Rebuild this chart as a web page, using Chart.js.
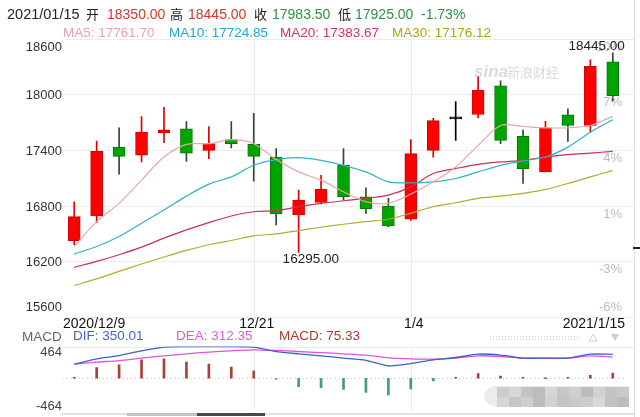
<!DOCTYPE html>
<html>
<head>
<meta charset="utf-8">
<script src="https://cdn.jsdelivr.net/npm/chart.js@4.4.1/dist/chart.umd.min.js"></script>
<style>
  html, body { margin: 0; padding: 0; background: #fff; }
  #wrap { position: relative; width: 640px; height: 417px; overflow: hidden; }
  canvas { position: absolute; left: 0; top: 0; }
</style>
</head>
<body>
<div id="wrap">
  <canvas id="kline" width="640" height="417"></canvas>
  <canvas id="macd" width="640" height="417"></canvas>
</div>
<script>
// K-line data
const dates = ['2020/12/9', '2020/12/10', '2020/12/11', '2020/12/14', '2020/12/15', '2020/12/16', '2020/12/17',
    '2020/12/18', '2020/12/21', '2020/12/22', '2020/12/23', '2020/12/24', '2020/12/28', '2020/12/29', '2020/12/30',
    '2021/1/4', '2021/1/5', '2021/1/6', '2021/1/7', '2021/1/8', '2021/1/11', '2021/1/12', '2021/1/13', '2021/1/14', '2021/1/15'];
const open  = [16421, 16688, 17430, 17342, 17585, 17628, 17395, 17510, 17459, 17323, 16699, 16835, 17234, 16895, 16795, 16653, 17395, 17745, 17781, 18091, 17545, 17163, 17777, 17663, 18350];
const close = [16681, 17384, 17331, 17591, 17617, 17366, 17467, 17467, 17331, 16710, 16860, 16974, 16895, 16763, 16581, 17360, 17716, 17745, 18045, 17502, 17199, 17638, 17663, 18300, 17983.5];
const high  = [16841, 17495, 17638, 17759, 17859, 17706, 17652, 17706, 17795, 17413, 16967, 17127, 17413, 16991, 16878, 17510, 17741, 17920, 18188, 18145, 17617, 17709, 17842, 18370, 18445];
const low   = [16378, 16617, 17138, 17270, 17478, 17277, 17306, 17420, 17063, 16592, 16295, 16817, 16860, 16717, 16574, 16640, 17323, 17502, 17745, 17467, 17038, 17163, 17492, 17591, 17925];

const ma5  = [16359, 16627, 16824, 17074, 17323, 17459, 17467, 17510, 17467, 17296, 17163, 17074, 16949, 16841, 16824, 16924, 17056, 17216, 17449, 17663, 17652, 17638, 17638, 17663, 17761.7];
const ma10 = [16278, 16359, 16467, 16610, 16753, 16902, 17031, 17109, 17234, 17296, 17317, 17288, 17234, 17163, 17056, 17045, 17056, 17092, 17163, 17234, 17281, 17323, 17430, 17591, 17724.85];
const ma20 = [16135, 16199, 16271, 16353, 16449, 16538, 16617, 16688, 16734, 16745, 16788, 16824, 16852, 16878, 16913, 17002, 17146, 17199, 17245, 17270, 17288, 17323, 17349, 17366, 17383.67];
const ma30 = [15939, 16010, 16092, 16171, 16246, 16317, 16378, 16424, 16474, 16495, 16531, 16567, 16599, 16627, 16653, 16717, 16788, 16831, 16878, 16902, 16931, 16974, 17038, 17109, 17176.12];

// MACD panel
const dif  = [206, 284, 332, 401, 456, 463, 464, 464, 456, 390, 357, 328, 294, 262, 181, 215, 269, 303, 353, 338, 294, 294, 294, 353, 350.01];
const dea  = [206, 235, 259, 294, 328, 357, 382, 401, 416, 406, 391, 375, 357, 338, 298, 284, 279, 294, 328, 318, 294, 294, 294, 328, 312.35];
const hist = [5, 156, 196, 269, 284, 235, 206, 162, 107, -15, -123, -138, -162, -206, -245, -157, -40, 10, 70, 30, 3, 0, 2, 44, 75.33];

// axes
const priceTicks = [18600, 18000, 17400, 16800, 16200, 15600];
const pctTicks = ['10%', '7%', '4%', '1%', '-3%', '-6%'];
const macdTicks = [464, -464];
const axisDateIdx = [0, 8, 15, 24];
const axisDateText = ['2020/12/9', '12/21', '1/4', '2021/1/15'];

const FONT = '"Liberation Sans", "Noto Sans CJK SC", sans-serif';
const RED = '#d2392e', GREEN = '#2e9141';

function txt(ctx, s, x, y, color, size, align) {
    ctx.font = size + 'px ' + FONT;
    ctx.fillStyle = color;
    ctx.textAlign = align || 'left';
    ctx.textBaseline = 'middle';
    ctx.fillText(s, x, y);
}

const upDown = open.map((o, i) => close[i] > o ? 1 : (close[i] < o ? -1 : 0));
const bodyFill = upDown.map(d => d > 0 ? '#ff0000' : (d < 0 ? '#00a400' : '#000'));
const bodyLine = upDown.map(d => d > 0 ? '#d00000' : (d < 0 ? '#007a00' : '#000'));
const wickColor = upDown.map(d => d > 0 ? '#e00000' : (d < 0 ? '#2f4a2f' : '#000'));

const klineDecor = {
    id: 'klineDecor',
    beforeDraw(chart) {
        const ctx = chart.ctx;
        ctx.save();
        ctx.fillStyle = '#fff';
        ctx.fillRect(0, 0, chart.width, chart.height);
        ctx.restore();
    },
    beforeDatasetsDraw(chart) {
        const ctx = chart.ctx, ys = chart.scales.y, xs = chart.scales.x, a = chart.chartArea;
        ctx.save();
        ctx.strokeStyle = '#ececec';
        ctx.lineWidth = 1;
        priceTicks.forEach(v => {
            const y = Math.round(ys.getPixelForValue(v)) + 0.5;
            ctx.beginPath(); ctx.moveTo(a.left, y); ctx.lineTo(634, y); ctx.stroke();
        });
        [8, 15].forEach(i => {
            const x = Math.round(xs.getPixelForValue(i)) + 0.5;
            ctx.beginPath(); ctx.moveTo(x, a.top); ctx.lineTo(x, a.bottom); ctx.stroke();
        });
        // watermark
        ctx.font = 'italic bold 17px ' + FONT;
        ctx.fillStyle = '#dadada';
        ctx.textBaseline = 'middle';
        ctx.fillText('sina', 474, 72);
        ctx.font = '13px ' + FONT;
        ctx.fillText('新浪财经', 507, 73);
        ctx.restore();
    },
    afterDraw(chart) {
        const ctx = chart.ctx, ys = chart.scales.y, xs = chart.scales.x;
        ctx.save();
        // header
        txt(ctx, '2021/01/15', 7, 15, '#222', 14.5);
        txt(ctx, '开', 86, 15, '#222', 13);
        txt(ctx, '18350.00', 107, 15, RED, 14);
        txt(ctx, '高', 170, 15, '#222', 13);
        txt(ctx, '18445.00', 188, 15, RED, 14);
        txt(ctx, '收', 254, 15, '#222', 13);
        txt(ctx, '17983.50', 272, 15, GREEN, 14);
        txt(ctx, '低', 338, 15, '#222', 13);
        txt(ctx, '17925.00', 355, 15, GREEN, 14);
        txt(ctx, '-1.73%', 421, 15, GREEN, 14);
        txt(ctx, 'MA5: ' + ma5[24].toFixed(2), 63, 33, '#e6a3ad', 13.5);
        txt(ctx, 'MA10: ' + ma10[24].toFixed(2), 169, 33, '#26a6cf', 13.5);
        txt(ctx, 'MA20: ' + ma20[24].toFixed(2), 280, 33, '#cc3857', 13.5);
        txt(ctx, 'MA30: ' + ma30[24].toFixed(2), 392, 33, '#a9a51e', 13.5);
        // left price axis + right percent axis
        priceTicks.forEach((v, i) => {
            const y = ys.getPixelForValue(v);
            const last = i === priceTicks.length - 1;
            const ly = i === 0 ? y + 8.5 : (last ? y - 10 : y + 1.5);
            txt(ctx, String(v), 62, ly, '#333', 13, 'right');
            txt(ctx, pctTicks[i], 622, last ? y - 10 : y + 8.5, '#bdbdbd', 13, 'right');
        });
        // date axis
        axisDateIdx.forEach((idx, k) => {
            const x = xs.getPixelForValue(idx);
            let align = 'center', tx = x + 3;
            if (k === 0) { align = 'left'; tx = 63; }
            if (k === axisDateIdx.length - 1) { align = 'right'; tx = 625; }
            txt(ctx, axisDateText[k], tx, 324, '#111', 14, align);
        });
        // max / min markers
        let hi = 0, lo = 0;
        high.forEach((v, i) => { if (v > high[hi]) hi = i; });
        low.forEach((v, i) => { if (v < low[lo]) lo = i; });
        txt(ctx, high[hi].toFixed(2), xs.getPixelForValue(hi) + 12, ys.getPixelForValue(high[hi]) - 7, '#222', 13.5, 'right');
        txt(ctx, low[lo].toFixed(2), xs.getPixelForValue(lo) - 16, ys.getPixelForValue(low[lo]) + 7, '#222', 13.5, 'left');
        // frame
        ctx.strokeStyle = '#dcdcdc';
        ctx.beginPath(); ctx.moveTo(634.5, 0); ctx.lineTo(634.5, 417); ctx.stroke();
        ctx.fillStyle = '#222';
        ctx.fillRect(633, 247, 7, 2);
        ctx.restore();
    }
};

new Chart(document.getElementById('kline').getContext('2d'), {
    type: 'bar',
    data: {
        labels: dates,
        datasets: [{
            type: 'line',
            data: ma5,
            borderColor: '#e3a9a3',
            borderWidth: 1.2,
            pointRadius: 0,
            tension: 0.3,
            order: 0
        }, {
            type: 'line',
            data: ma10,
            borderColor: '#2fb3c6',
            borderWidth: 1.2,
            pointRadius: 0,
            tension: 0.3,
            order: 0
        }, {
            type: 'line',
            data: ma20,
            borderColor: '#cc3050',
            borderWidth: 1.2,
            pointRadius: 0,
            tension: 0.3,
            order: 0
        }, {
            type: 'line',
            data: ma30,
            borderColor: '#b0ad2c',
            borderWidth: 1.2,
            pointRadius: 0,
            tension: 0.3,
            order: 0
        }, {
            // candle bodies
            data: open.map((o, i) => o === close[i] ? [o - 10, o + 10] : [o, close[i]]),
            backgroundColor: bodyFill,
            borderColor: bodyLine,
            borderWidth: 1,
            borderSkipped: false,
            barThickness: 12,
            grouped: false,
            order: 1
        }, {
            // wicks
            data: low.map((l, i) => [l, high[i]]),
            backgroundColor: wickColor,
            borderWidth: 0,
            barThickness: 1,
            grouped: false,
            order: 2
        }]
    },
    options: {
        responsive: false,
        animation: false,
        layout: { padding: { left: 63, right: 16, top: 38.5, bottom: 100 } },
        plugins: { legend: { display: false }, tooltip: { enabled: false } },
        scales: {
            x: { type: 'category', display: false, offset: true },
            y: { display: false, min: 15600, max: 18600 }
        }
    },
    plugins: [klineDecor]
});

const macdDecor = {
    id: 'macdDecor',
    beforeDatasetsDraw(chart) {
        const ctx = chart.ctx, ys = chart.scales.y, xs = chart.scales.x, a = chart.chartArea;
        ctx.save();
        ctx.strokeStyle = '#ececec';
        ctx.lineWidth = 1;
        let y = Math.round(ys.getPixelForValue(macdTicks[0])) + 0.5;
        ctx.beginPath(); ctx.moveTo(a.left, y); ctx.lineTo(634, y); ctx.stroke();
        [8, 15].forEach(i => {
            const x = Math.round(xs.getPixelForValue(i)) + 0.5;
            ctx.beginPath(); ctx.moveTo(x, a.top); ctx.lineTo(x, a.bottom); ctx.stroke();
        });
        y = Math.round(ys.getPixelForValue(0)) + 0.5;
        ctx.strokeStyle = '#c8c8c8';
        ctx.setLineDash([1, 3]);
        ctx.beginPath(); ctx.moveTo(a.left, y); ctx.lineTo(624, y); ctx.stroke();
        ctx.restore();
    },
    afterDraw(chart) {
        const ctx = chart.ctx;
        ctx.save();
        txt(ctx, 'MACD', 22, 337, '#666', 13.5);
        txt(ctx, 'DIF: ' + dif[24].toFixed(2), 73, 336, '#4563c9', 13.5);
        txt(ctx, 'DEA: ' + dea[24].toFixed(2), 176, 336, '#d75ed7', 13.5);
        txt(ctx, 'MACD: ' + hist[24].toFixed(2), 279, 336, '#b0392f', 13.5);
        txt(ctx, String(macdTicks[0]), 62, 352.5, '#444', 13, 'right');
        txt(ctx, String(macdTicks[1]), 62, 406.5, '#444', 13, 'right');
        // little controls on the right
        ctx.fillStyle = '#cfcfcf';
        for (let x = 490; x < 578; x += 3) { ctx.fillRect(x, 336, 1, 1); ctx.fillRect(x, 339, 1, 1); }
        ctx.strokeStyle = '#cfcfcf';
        ctx.beginPath(); ctx.moveTo(589, 341); ctx.lineTo(593, 334); ctx.lineTo(597, 341); ctx.closePath(); ctx.stroke();
        ctx.fillStyle = '#cfcfcf';
        ctx.beginPath(); ctx.moveTo(611, 334); ctx.lineTo(619, 334); ctx.lineTo(615, 341); ctx.closePath(); ctx.fill();
        // blurred mosaic in the corner
        const shades = ['#cdcdcd', '#d8d8d8', '#c3c3c3', '#bdbdbd', '#d6d6d6', '#c6c6c6', '#cfcfcf', '#bcbcbc', '#d2d2d2', '#c4c4c4', '#c9c9c9'];
        ctx.fillStyle = '#ececec';
        ctx.beginPath(); ctx.arc(494, 396, 10, 0, Math.PI * 2); ctx.fill();
        ctx.fillRect(494, 386, 134, 21);
        shades.forEach((c, k) => {
            ctx.fillStyle = c;
            ctx.fillRect(497 + k * 12, 387, 12, 10);
            ctx.fillStyle = shades[(k + 4) % shades.length];
            ctx.fillRect(497 + k * 12, 397, 12, 10);
        });
        // scroll bar
        ctx.fillStyle = '#e2e2e2';
        ctx.fillRect(62, 413, 572, 2);
        ctx.fillStyle = '#c4c4c4';
        ctx.fillRect(127, 413, 70, 3);
        ctx.fillStyle = '#4a4a4a';
        ctx.fillRect(197, 413, 68, 3);
        ctx.restore();
    }
};

new Chart(document.getElementById('macd').getContext('2d'), {
    type: 'bar',
    data: {
        labels: dates,
        datasets: [{
            type: 'line',
            data: dif,
            borderColor: '#3f5fc8',
            borderWidth: 1.3,
            pointRadius: 0,
            tension: 0.2,
            order: 0
        }, {
            type: 'line',
            data: dea,
            borderColor: '#dd55dd',
            borderWidth: 1.3,
            pointRadius: 0,
            tension: 0.2,
            order: 0
        }, {
            data: hist,
            backgroundColor: hist.map(v => v >= 0 ? '#a8403c' : '#3f9a8e'),
            barThickness: 2,
            minBarLength: 1,
            order: 1
        }]
    },
    options: {
        responsive: false,
        animation: false,
        layout: { padding: { left: 63, right: 16, top: 346.5, bottom: 7 } },
        plugins: { legend: { display: false }, tooltip: { enabled: false } },
        scales: {
            x: { type: 'category', display: false, offset: true },
            y: { display: false, min: -464, max: 464 }
        }
    },
    plugins: [macdDecor]
});
</script>
</body>
</html>
